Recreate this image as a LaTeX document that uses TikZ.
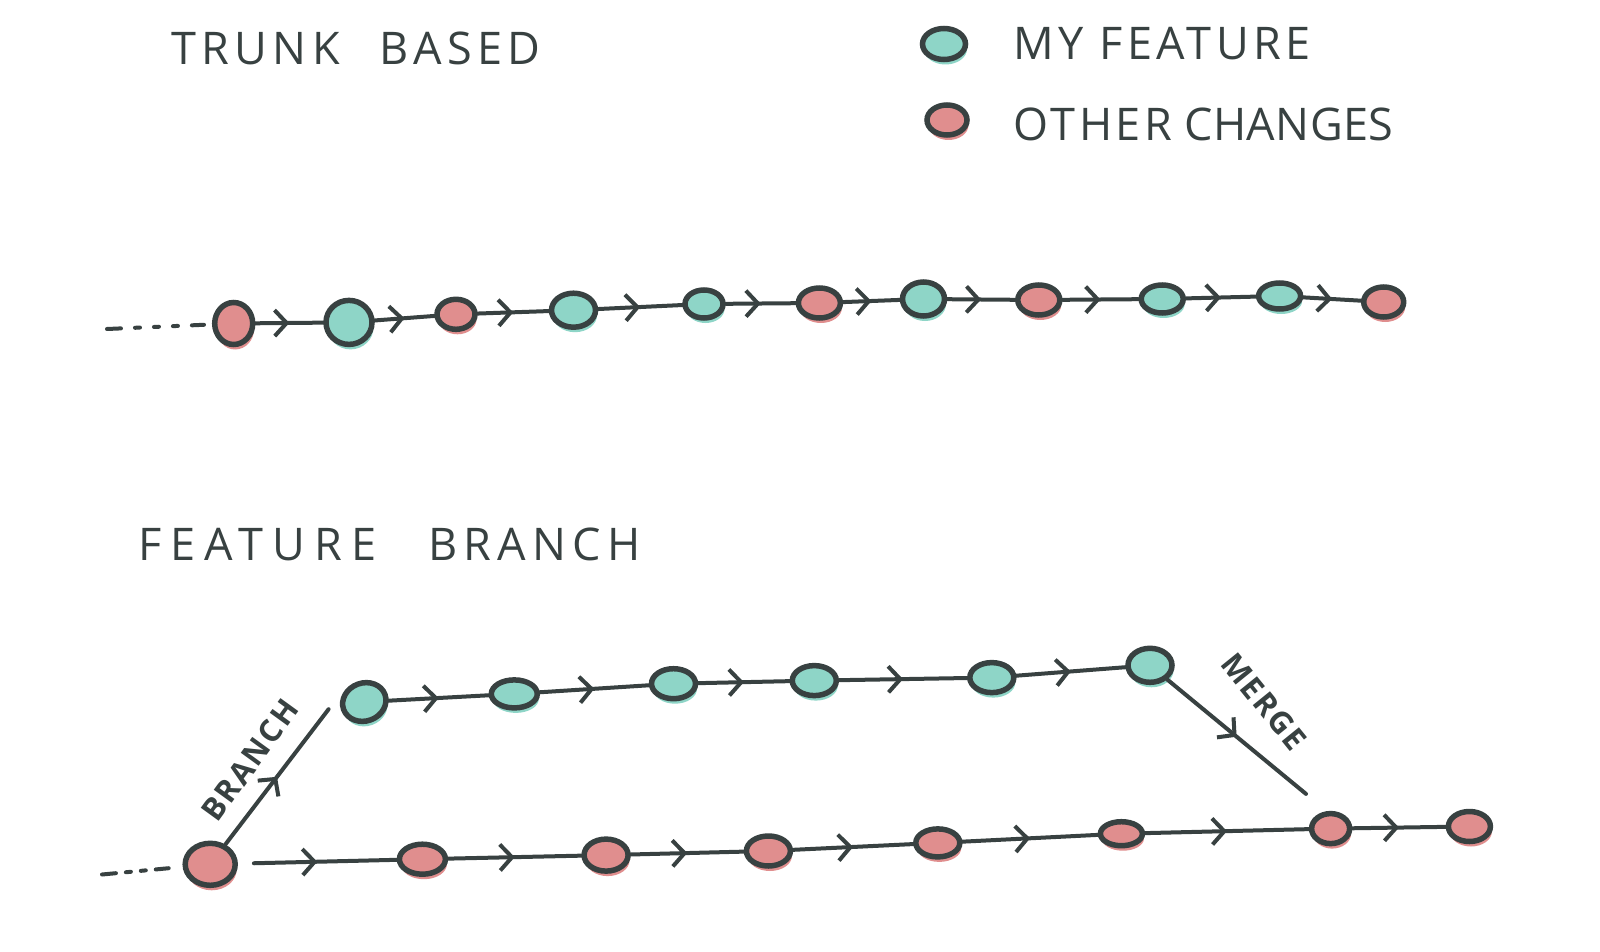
\documentclass[tikz,border=0pt]{standalone}
\usepackage{fontspec}
\setmainfont{Open Sans}
\usetikzlibrary{arrows.meta,decorations.markings,shadows,shapes.geometric}
\definecolor{ink}{HTML}{384141}
\definecolor{tealc}{HTML}{8ED5C7}
\definecolor{redc}{HTML}{E08E8E}
\tikzset{
  commit/.style={ellipse, draw=ink, line width=5.5pt, inner sep=0pt},
  sz/.style 2 args={minimum width=#1pt, minimum height=#2pt},
  mine/.style={commit, fill=tealc, general shadow={fill=tealc, shadow xshift=1.5pt, shadow yshift=-5pt}},
  other/.style={commit, fill=redc, general shadow={fill=redc, shadow xshift=1.5pt, shadow yshift=-5pt}},
  link/.style={draw=ink, line width=4pt, line cap=round,
    postaction={decorate},
    decoration={markings, mark=at position 0.5 with {\arrow{Straight Barb[length=12pt,width=26pt,line width=4pt]}}}},
  leadin/.style={draw=ink, line width=4pt, line cap=round,
    dash pattern=on 14pt off 14pt on 5pt off 14pt on 5pt off 14pt on 5pt off 14pt},
  handtext/.style={text=ink, inner sep=0pt, font=\fontsize{45}{48}\selectfont},
  smalltext/.style={text=ink, inner sep=0pt, font=\fontsize{31}{33}\selectfont\bfseries\addfontfeatures{LetterSpace=6}},
}
\begin{document}
\begin{tikzpicture}[x=1pt,y=-1pt]
\useasboundingbox[fill=white] (0,0) rectangle (1600,952);

% titles
\node[handtext, anchor=west] (trunk) at (171,48) {{\addfontfeatures{LetterSpace=12}TRUNK}\hspace{40pt}{\addfontfeatures{LetterSpace=12}BASED}};
\node[handtext, anchor=west] (feat) at (138,544) {{\addfontfeatures{LetterSpace=20}FEATURE}\hspace{52pt}{\addfontfeatures{LetterSpace=14}BRANCH}};

% legend
\node[mine, sz={43}{31}] (lgmine) at (944,44) {};
\node[other, sz={40}{30}] (lgother) at (947,120) {};
\node[handtext, anchor=west] (lgminet) at (1013,44) {{\addfontfeatures{LetterSpace=10}MY FEATURE}};
\node[handtext, anchor=west] (lgothert) at (1013,124) {{\addfontfeatures{LetterSpace=8}OTHER}\hspace{12pt}{\addfontfeatures{LetterSpace=1}CHANGES}};

% trunk based row
\coordinate (tdash) at (107,329);
\node[other, sz={38}{42}] (n1) at (233.7,323.5) {};
\node[mine,  sz={46}{44}] (n2) at (349,322.4) {};
\node[other, sz={38}{30}] (n3) at (456,314.3) {};
\node[mine,  sz={44}{34}] (n4) at (573.5,310.2) {};
\node[mine,  sz={38}{28}] (n5) at (704,304) {};
\node[other, sz={42}{30}] (n6) at (819.4,303) {};
\node[mine,  sz={42}{34}] (n7) at (923.5,299) {};
\node[other, sz={42}{30}] (n8) at (1038.8,300) {};
\node[mine,  sz={42}{28}] (n9) at (1162.2,299) {};
\node[mine,  sz={42}{26}] (n10) at (1279.6,296) {};
\node[other, sz={40}{30}] (n11) at (1383.7,302) {};

\draw[leadin, shorten >=8pt] (tdash) -- (n1);
\foreach \a/\b in {n1/n2,n2/n3,n3/n4,n4/n5,n5/n6,n6/n7,n7/n8,n8/n9,n9/n10,n10/n11}
  \draw[link] (\a) -- (\b);

% feature branch: main line
\coordinate (fdash) at (102,874.5);
\node[other, sz={50}{42}] (b1) at (210.2,864.3) {};
\node[other, sz={46}{30}] (b2) at (422.4,859.2) {};
\node[other, sz={44}{32}] (b3) at (606.1,855.1) {};
\node[other, sz={44}{30}] (b4) at (768.4,851) {};
\node[other, sz={44}{28}] (b5) at (937.8,842.9) {};
\node[other, sz={42}{24}] (b6) at (1121.4,833.7) {};
\node[other, sz={38}{30}] (b7) at (1330.6,828.6) {};
\node[other, sz={42}{30}] (b8) at (1469.4,826.5) {};

\draw[leadin, dash pattern=on 14pt off 10pt on 5pt off 10pt on 5pt off 10pt, shorten >=14pt] (fdash) -- (b1);
\draw[link, shorten <=16pt] (b1) -- (b2);
\foreach \a/\b in {b2/b3,b3/b4,b4/b5,b5/b6,b6/b7,b7/b8}
  \draw[link] (\a) -- (\b);

% feature branch: my feature line
\node[mine, sz={44}{38}, rotate=20] (t1) at (364.3,702) {};
\node[mine, sz={46}{28}] (t2) at (514.3,693.9) {};
\node[mine, sz={44}{30}] (t3) at (673.5,683.7) {};
\node[mine, sz={44}{30}] (t4) at (814.3,680.6) {};
\node[mine, sz={44}{30}] (t5) at (991.8,677.6) {};
\node[mine, sz={44}{34}] (t6) at (1150,665.3) {};
\foreach \a/\b in {t1/t2,t2/t3,t3/t4,t4/t5,t5/t6}
  \draw[link] (\a) -- (\b);

% branch and merge
\coordinate (brend) at (328.6,709.2);
\coordinate (mgend) at (1306,793.9);
\draw[link] (b1) -- (brend);
\draw[link] (t6) -- (mgend);
\node[smalltext, rotate=54] (brl) at (250,760) {BRANCH};
\node[smalltext, rotate=-51] (mgl) at (1264,702) {MERGE};
\end{tikzpicture}
\end{document}
